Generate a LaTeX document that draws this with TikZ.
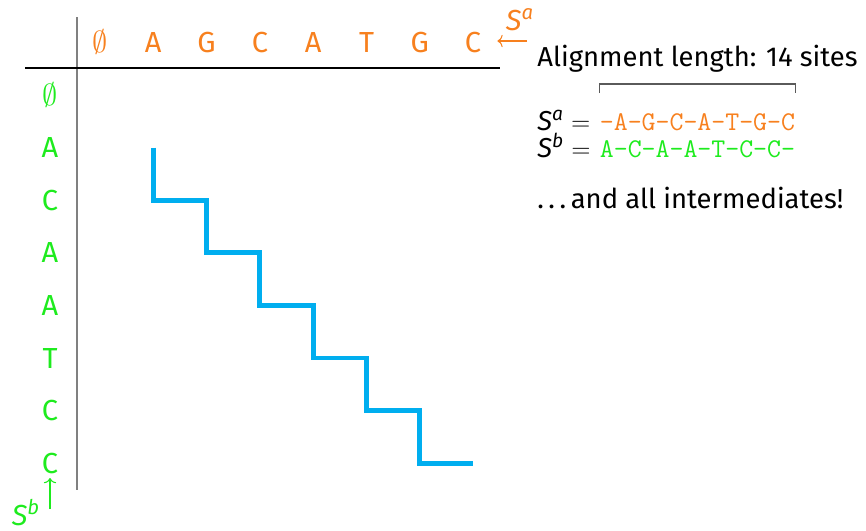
\documentclass[tikz,border=0pt]{standalone}
\usepackage{fontspec}
\setmainfont{Fira Sans}
\usetikzlibrary{positioning,arrows.meta}
\definecolor{seqorange}{RGB}{247,128,30}
\definecolor{seqgreen}{RGB}{30,235,30}
\definecolor{pathblue}{RGB}{0,174,239}
\definecolor{axisgray}{RGB}{128,128,128}
\newcommand{\seqsym}[1]{\textit{S\textsuperscript{#1}}}
\tikzset{
    toplabel/.style={anchor=base, inner sep=0pt, text=seqorange, font=\fontsize{16.5}{20}\selectfont},
    sidelabel/.style={anchor=base, inner sep=0pt, text=seqgreen, font=\fontsize{16.5}{20}\selectfont},
    sidetext/.style={anchor=base west, inner sep=0pt, font=\fontsize{15.6}{18}\selectfont},
    seqtext/.style={anchor=base west, inner sep=0pt, font=\fontsize{15.4}{18}\selectfont\ttfamily},
    pathline/.style={line width=2.8pt, color=pathblue},
    seqarrow/.style={-{To[length=3pt, width=7pt]}, line width=0.6pt}
}

\begin{document}
\begin{tikzpicture}[x=0.02cm, y=-0.02cm]
\useasboundingbox (0,0) rectangle (866,531);

% Axes of the grid
\draw[axisgray, line width=1.2pt] (77,17) -- (77,490);
\draw[line width=0.8pt] (25,68) -- (500,68);

% Sequence a along the top
\foreach \ch [count=\i from 0] in {$\emptyset$, A, G, C, A, T, G, C}
    \node[toplabel] (top\i) at (100+53.3*\i,52) {\ch};

% Sequence b down the side
\foreach \ch [count=\j from 0] in {$\emptyset$, A, C, A, A, T, C, C}
    \node[sidelabel] (side\j) at (50,105+52.6*\j) {\ch};

% Sequence names with arrows
\node[text=seqorange, font=\fontsize{16.5}{20}\selectfont, inner sep=0pt] (sa) at (520,20) {\seqsym{a}};
\coordinate (satail) at (527,41);
\draw[seqarrow, seqorange, shorten >=9pt] (satail) -- (satail -| top7.east);

\node[text=seqgreen, font=\fontsize{16.5}{20}\selectfont, inner sep=0pt] (sb) at (26,513) {\seqsym{b}};
\coordinate (sbtail) at (50,509);
\draw[seqarrow, seqgreen] (sbtail) -- (sbtail |- 0,478);

% Staircase path through the grid
\draw[pathline] (153.3,147.6) \foreach \k in {1,...,6} { -- ++(0,52.6) -- ++(53.3,0) };

% Alignment on the right
\node[sidetext] (alen) at (537,66) {Alignment length: 14 sites};
\node[sidetext] (lhsa) at (537,130) {\seqsym{a} $=$};
\node[seqtext, text=seqorange] (seqa) at ([xshift=5pt]lhsa.base east) {-A-G-C-A-T-G-C};
\node[sidetext] (lhsb) at (537,157) {\seqsym{b} $=$};
\node[seqtext, text=seqgreen] (seqb) at (seqa.base west |- 0,157) {A-C-A-A-T-C-C-};
\draw[axisgray!70!black, line width=0.7pt] (seqa.west |- 0,93) -- (seqa.west |- 0,84) -- (seqa.east |- 0,84) -- (seqa.east |- 0,93);

\node[sidetext] (inter) at (537,208) {.\,.\,.\,and all intermediates!};

\end{tikzpicture}
\end{document}
